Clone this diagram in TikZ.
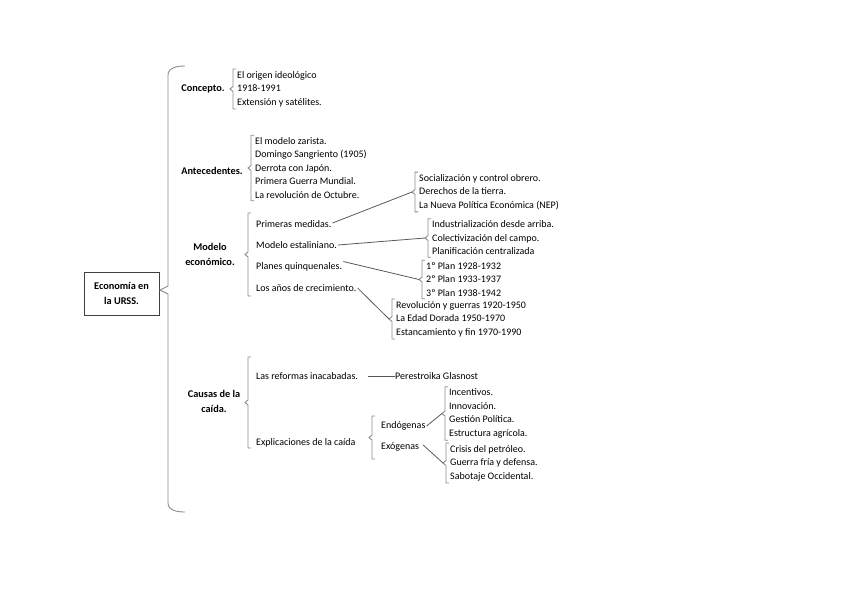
\documentclass[tikz,border=0pt]{standalone}
\usepackage{fontspec}
\setmainfont{Carlito}
\usetikzlibrary{calc}

\definecolor{gris}{HTML}{8C8C8C}
\definecolor{grisosc}{HTML}{595959}
\definecolor{borde}{HTML}{404040}

\tikzset{corch/.style = {draw=gris, line width=0.9pt},
         linea/.style = {draw=grisosc, line width=0.8pt},
         titulo/.style = {font=\bfseries\fontsize{10.3}{15}\selectfont, align=center, inner sep=0pt},
         item/.style = {font=\fontsize{10}{13.5}\selectfont, anchor=west, inner sep=1pt},
         lista/.style = {item, align=left, inner xsep=4pt, inner ysep=2pt},
         caja/.style = {draw=borde, line width=0.9pt, minimum width=75pt, minimum height=43pt,
                        font=\bfseries\fontsize{10.3}{14.5}\selectfont, align=center}
        }

% corchete: arriba, abajo, nombre de la punta
\newcommand\corchete[3]{%
  \draw[corch] ($(#1)+(3,0)$) -- (#1) -- ($(#1)!.5!(#2)+(0,-2.5)$)
     -- ($(#1)!.5!(#2)+(-3,0)$) coordinate (#3) -- ($(#1)!.5!(#2)+(0,2.5)$)
     -- (#2) -- ($(#2)+(3,0)$);}

\begin{document}
\begin{tikzpicture}[x=1pt, y=-1pt]
  \useasboundingbox (0,0) rectangle (848,599);

  % raiz y corchete grande
  \node[caja] (urss) at (121.5,293.5) {Economía en\\la URSS.};
  \draw[corch] (185,66) to[out=180, in=90] (168,75) -- (168,286)
     -- (160,290) coordinate (gp) -- (168,294) -- (168,503) to[out=-90, in=180] (185,512);

  % primer nivel
  \node[titulo] (con) at (203,89) {Concepto.};
  \node[titulo] (ant) at (212,171) {Antecedentes.};
  \node[titulo] (mod) at (210,254.5) {Modelo\\económico.};
  \node[titulo] (cau) at (214,401.5) {Causas de la\\caída.};

  % Concepto
  \node[lista] (lcon) at (233,89) {El origen ideológico\\1918-1991\\Extensión y satélites.};
  \corchete{lcon.north west}{lcon.south west}{lcon-p}

  % Antecedentes
  \node[lista] (lant) at (251,168) {El modelo zarista.\\Domingo Sangriento (1905)\\Derrota con Japón.\\Primera Guerra Mundial.\\La revolución de Octubre.};
  \corchete{lant.north west}{lant.south west}{lant-p}

  % Modelo economico
  \node[item] (pm) at (255,224) {Primeras medidas.};
  \node[item] (me) at (255,245) {Modelo estaliniano.};
  \node[item] (pq) at (255,267) {Planes quinquenales.};
  \node[item] (ac) at (255,288) {Los años de crecimiento.};
  \coordinate (m1) at (248,213);
  \coordinate (m2) at (248,296);
  \corchete{m1}{m2}{mp}

  \node[lista] (lpm) at (415,192) {Socialización y control obrero.\\Derechos de la tierra.\\La Nueva Política Económica (NEP)};
  \corchete{lpm.north west}{lpm.south west}{lpm-p}
  \node[lista] (lme) at (428,238) {Industrialización desde arriba.\\Colectivización del campo.\\Planificación centralizada};
  \corchete{lme.north west}{lme.south west}{lme-p}
  \node[lista] (lpq) at (422,279.5) {1º Plan 1928-1932\\2º Plan 1933-1937\\3º Plan 1938-1942};
  \corchete{lpq.north west}{lpq.south west}{lpq-p}
  \node[lista] (lac) at (392,319) {Revolución y guerras 1920-1950\\La Edad Dorada 1950-1970\\Estancamiento y fin 1970-1990};
  \corchete{lac.north west}{lac.south west}{lac-p}

  \draw[linea] ([yshift=1pt]pm.east) -- (lpm-p);
  \draw[linea] (me.east) -- (lme-p);
  \draw[linea] (pq.north east) -- (lpq-p);
  \draw[linea] (ac.east) -- (lac-p);

  % Causas de la caida
  \node[item] (lri) at (255,376) {Las reformas inacabadas.};
  \node[item] (lexp) at (255,443) {Explicaciones de la caída};
  \coordinate (c1) at (248,357);
  \coordinate (c2) at (248,448);
  \corchete{c1}{c2}{cp}

  \node[item, inner sep=0pt] (per) at (395,376) {Perestroika Glasnost};
  \draw[linea] ([xshift=9pt]lri.east) -- (per.west);

  \node[item] (endo) at (380,426) {Endógenas};
  \node[item] (exo) at (380,447) {Exógenas};
  \coordinate (e1) at (372,416);
  \coordinate (e2) at (372,459);
  \corchete{e1}{e2}{ep}

  \node[lista] (lend) at (445,413.5) {Incentivos.\\Innovación.\\Gestión Política.\\Estructura agrícola.};
  \corchete{lend.north west}{lend.south west}{lend-p}
  \node[lista] (lexo) at (446,463) {Crisis del petróleo.\\Guerra fría y defensa.\\Sabotaje Occidental.};
  \corchete{lexo.north west}{lexo.south west}{lexo-p}

  \draw[linea] (endo.east) -- (lend-p);
  \draw[linea] ([xshift=3pt, yshift=2pt]exo.east) -- (lexo-p);
\end{tikzpicture}
\end{document}
